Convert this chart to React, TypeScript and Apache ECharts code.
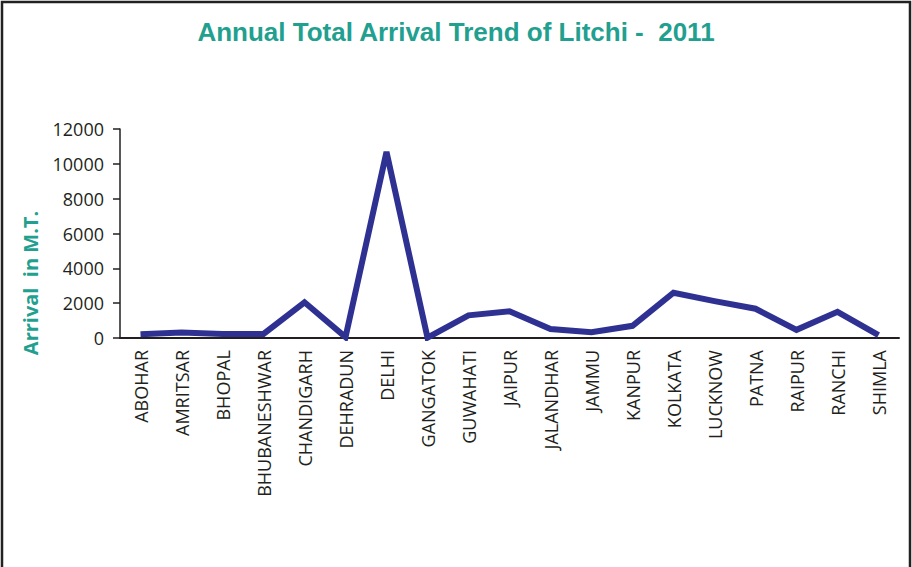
import React, { useEffect, useRef } from "react";
import * as echarts from "echarts";

const categories = [
  "ABOHAR", "AMRITSAR", "BHOPAL", "BHUBANESHWAR", "CHANDIGARH", "DEHRADUN",
  "DELHI", "GANGATOK", "GUWAHATI", "JAIPUR", "JALANDHAR", "JAMMU", "KANPUR",
  "KOLKATA", "LUCKNOW", "PATNA", "RAIPUR", "RANCHI", "SHIMLA",
];
const arrivals = [
  210, 320, 230, 230, 2050, 50, 10680, 20, 1300, 1530, 520, 330, 700,
  2600, 2120, 1680, 470, 1500, 160,
];
const yTicks = { min: 0, max: 12000, interval: 2000 };
const titleText = "Annual Total Arrival Trend of Litchi -  2011";
const yAxisTitle = "Arrival  in M.T.";

export default function App() {
  const ref = useRef<HTMLDivElement>(null);
  useEffect(() => {
    if (!ref.current) return;
    const chart = echarts.init(ref.current, null, { renderer: "svg" });
    chart.setOption({
      animation: false,
      backgroundColor: "#ffffff",
      title: {
        text: titleText,
        left: "center",
        top: 14,
        textStyle: {
          fontFamily: "Liberation Sans",
          fontWeight: "bold",
          fontSize: 26,
          color: "#22A08F",
        },
      },
      grid: { left: 120, right: 13, top: 129, bottom: 229, containLabel: false },
      xAxis: {
        type: "category",
        data: categories,
        boundaryGap: true,
        axisLine: { lineStyle: { color: "#231F20", width: 2 } },
        axisTick: { show: false },
        axisLabel: {
          rotate: 90,
          margin: 12,
          interval: 0,
          fontFamily: "Open Sans",
          fontSize: 18,
          color: "#231F20",
        },
      },
      yAxis: {
        type: "value",
        min: yTicks.min,
        max: yTicks.max,
        interval: yTicks.interval,
        splitLine: { show: false },
        axisLine: { show: true, lineStyle: { color: "#231F20", width: 1.5 } },
        axisTick: { show: true, length: 7, lineStyle: { color: "#231F20", width: 1.5 } },
        axisLabel: {
          margin: 16,
          fontFamily: "Open Sans",
          fontSize: 18,
          color: "#231F20",
          formatter: (v: number) => String(v),
        },
      },
      series: [
        {
          type: "line",
          data: arrivals,
          showSymbol: false,
          symbol: "none",
          lineStyle: { color: "#2E3192", width: 6, join: "miter" },
          itemStyle: { color: "#2E3192" },
        },
      ],
      graphic: [
        {
          type: "rect",
          shape: { x: 2, y: 2, width: 908, height: 600 },
          style: { fill: "none", stroke: "#222222", lineWidth: 2.5 },
          silent: true,
        },
        {
          type: "text",
          x: 30,
          y: 283,
          rotation: Math.PI / 2,
          style: {
            text: yAxisTitle,
            fontFamily: "Open Sans",
            fontWeight: "bold",
            fontSize: 20,
            fill: "#22A08F",
            align: "center",
            verticalAlign: "middle",
          },
        },
      ],
    });
    return () => chart.dispose();
  }, []);
  return (
    <div
      ref={ref}
      style={{ position: "absolute", left: 0, top: 0, width: 912, height: 567 }}
    />
  );
}
